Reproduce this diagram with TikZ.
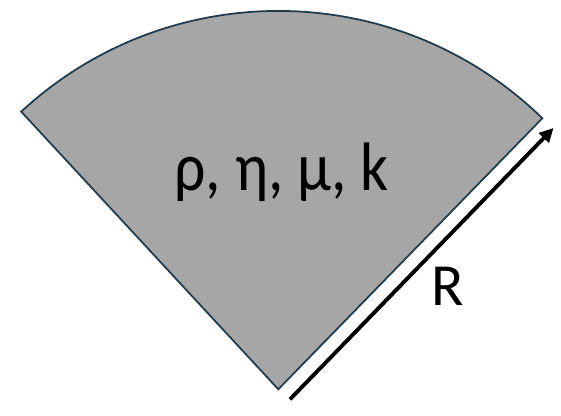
\documentclass[tikz,border=0pt]{standalone}
\usepackage{fontspec}
\setmainfont{Carlito}
\newfontfamily\propfont[FakeStretch=0.9]{Carlito}
\usepackage{xcolor}
\usepackage{tikz}
\usetikzlibrary{arrows.meta,positioning,calc}

\definecolor{edgeblue}{HTML}{1F3B4D}
\definecolor{sectorgray}{HTML}{A6A6A6}

\begin{document}
\begin{tikzpicture}[
    sector/.style={draw=edgeblue, line width=1pt, fill=sectorgray, line join=miter},
    radius arrow/.style={-{Triangle[length=2.8mm,width=2.7mm]}, line width=2.2pt},
    prop/.style={font=\propfont\fontsize{39}{44}\selectfont, anchor=base, inner sep=0pt},
    rlabel/.style={font=\fontsize{34}{40}\selectfont, anchor=base, inner sep=0pt}
  ]
  \useasboundingbox (0,0) rectangle (11.22,8.3);

  % fluid sector
  \coordinate (apex) at (5.566,0.514);
  \draw[sector] (apex) -- ++(132.8:7.568) coordinate (lcorner)
    arc[start angle=132.8, end angle=45.75, radius=7.568] coordinate (rcorner) -- cycle;

  \node (props) [prop] at (5.63,4.5) {ρ, η, μ, k};

  % radius
  \coordinate (rstart) at (5.80,0.314);
  \coordinate (rend) at (11.07,5.74);
  \draw[radius arrow] (rstart) -- (rend);
  \node (rname) [rlabel] at (8.95,2.2) {R};
\end{tikzpicture}
\end{document}
